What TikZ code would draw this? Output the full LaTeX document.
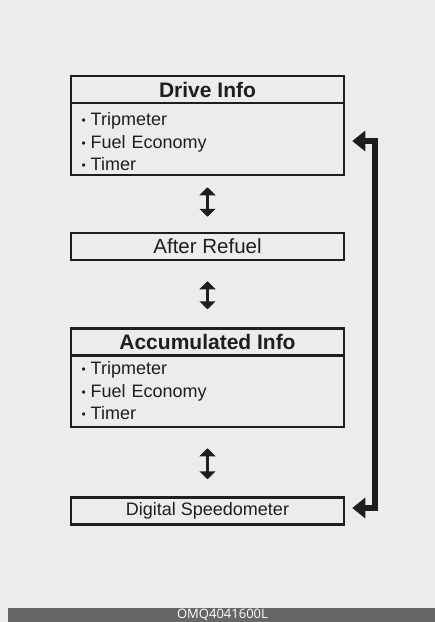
\documentclass[tikz,border=0pt]{standalone}
\usepackage{fontspec}
\setmainfont{Liberation Sans}
\newfontfamily\codefont{Open Sans}
\usetikzlibrary{arrows.meta}
\definecolor{bg}{HTML}{ECECEC}
\definecolor{ink}{HTML}{1E1E1E}
\definecolor{barcol}{HTML}{666666}
\newcommand\itembul{{\fontsize{12}{12}\selectfont\raisebox{1pt}{•}}\hspace{5pt}}
\begin{document}
\begin{tikzpicture}[x=1pt,y=-1pt,
  box/.style={draw=ink, line width=2.5pt, minimum width=273pt, inner sep=0pt, text=ink},
  headbox/.style={box, minimum height=27pt, font=\fontsize{21}{21}\selectfont\bfseries},
  bodybox/.style={box, minimum height=72pt, text width=252pt, inner xsep=10.5pt, align=left,
    font=\fontsize{18}{22.5}\selectfont},
  linebox/.style={box, minimum height=27pt},
  updown/.style={draw=ink, line width=3.5pt, {Triangle[width=16pt,length=8pt]}-{Triangle[width=16pt,length=8pt]}},
  loopline/.style={draw=ink, line width=6pt, {Triangle[width=20pt,length=13pt]}-{Triangle[width=20pt,length=13pt]}}
]
\useasboundingbox (0,0) rectangle (435,622);
\fill[bg] (0,0) rectangle (435,622);
\fill[barcol] (8,608) rectangle (435,622);
\node[text=white, font=\codefont\fontsize{13}{13}\selectfont] (code) at (222.5,615) {OMQ4041600L};

\node[headbox] (dhead) at (207.5,89.5) {Drive Info};
\node[bodybox] (dbody) at (207.5,139) {\rule{0pt}{19pt}\itembul Tripmeter\\\itembul Fuel Economy\\\itembul Timer};

\node[linebox, font=\fontsize{20.5}{20.5}\selectfont] (refuel) at (207.5,246.5) {After Refuel};

\node[headbox] (ahead) at (207.5,342) {Accumulated Info};
\node[bodybox] (abody) at (207.5,391) {\itembul Tripmeter\\\itembul Fuel Economy\\\itembul Timer};

\node[linebox, font=\fontsize{18}{18}\selectfont] (speedo) at (207.5,511) {Digital Speedometer};

\draw[updown, shorten <=11pt, shorten >=15pt] (dbody.south) -- (refuel.north);
\draw[updown, shorten <=20pt, shorten >=18pt] (refuel.south) -- (ahead.north);
\draw[updown, shorten <=20pt, shorten >=17pt] (abody.south) -- (speedo.north);

\draw[loopline, shorten <=7pt, shorten >=7pt] ([yshift=-2pt]dbody.east) -- ++(30,0) |- ([yshift=3pt]speedo.east);
\end{tikzpicture}
\end{document}
